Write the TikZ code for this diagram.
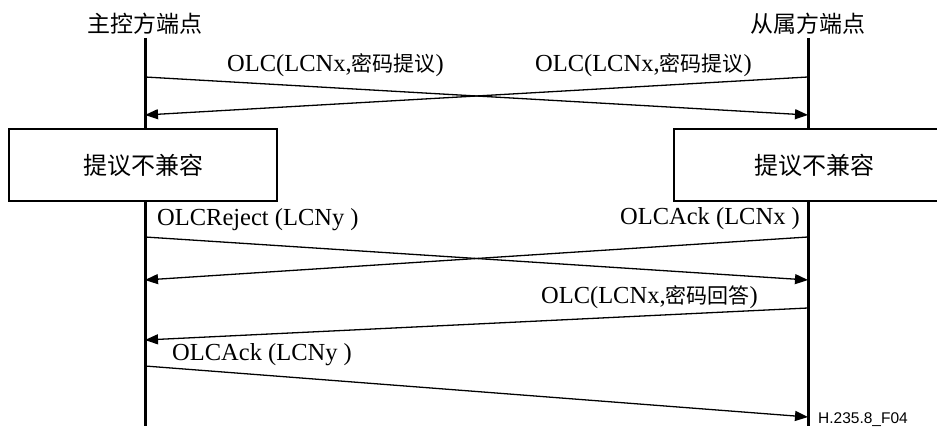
\documentclass[tikz,border=0pt]{standalone}
\usepackage{fontspec}
\setmainfont{Liberation Serif}
\newfontfamily\cjk{Noto Sans CJK SC}
\newfontfamily\sansf{Liberation Sans}
\newcommand{\cj}[1]{{\fontsize{21}{26}\selectfont\cjk #1}}
\usetikzlibrary{arrows.meta}
\tikzset{
  lifeline/.style={line width=3pt},
  msg/.style={line width=1.3pt,-{Triangle[length=13pt,width=10pt]}},
  msglabel/.style={inner sep=0pt,font=\fontsize{24.5}{28}\selectfont},
  header/.style={inner sep=0pt,font=\fontsize{23}{27}\selectfont\cjk},
  statebox/.style={draw,line width=1.8pt,fill=white,minimum height=72pt,font=\fontsize{24}{28}\selectfont\cjk,inner sep=0pt}
}
\begin{document}
\begin{tikzpicture}[x=1pt,y=-1pt]
\useasboundingbox[fill=white] (0,0) rectangle (937,430);
% headers
\node[header] (hL) at (145,24) {主控方端点};
\node[header] (hR) at (808,24) {从属方端点};
% lifelines
\coordinate (Ltop) at (145,38); \coordinate (Lbot) at (145,426);
\coordinate (Rtop) at (808,38); \coordinate (Rbot) at (808,426);
\draw[lifeline] (Ltop) -- (Lbot);
\draw[lifeline] (Rtop) -- (Rbot);
% message endpoints
\coordinate (L1) at (145,77);  \coordinate (R1) at (808,115);
\coordinate (R2) at (808,77);  \coordinate (L2) at (145,115);
\coordinate (L3) at (145,237); \coordinate (R3) at (808,280);
\coordinate (R4) at (808,237); \coordinate (L4) at (145,280);
\coordinate (R5) at (808,308); \coordinate (L5) at (145,340);
\coordinate (L6) at (145,366); \coordinate (R6) at (808,417);
% messages
\draw[msg] (L1) -- (R1);
\draw[msg] (R2) -- (L2);
\draw[msg] (L3) -- (R3);
\draw[msg] (R4) -- (L4);
\draw[msg] (R5) -- (L5);
\draw[msg] (L6) -- (R6);
% labels
\node[msglabel,anchor=west] (t1) at (227,65) {OLC(LCNx,\cj{密码提议})};
\node[msglabel,anchor=east] (t2) at (752,65) {OLC(LCNx,\cj{密码提议})};
\node[msglabel,anchor=west] (t3) at (157,220) {OLCReject (LCNy )};
\node[msglabel,anchor=east] (t4) at (800,219) {OLCAck (LCNx )};
\node[msglabel,anchor=east] (t5) at (758,297) {OLC(LCNx,\cj{密码回答})};
\node[msglabel,anchor=west] (t6) at (172,355) {OLCAck (LCNy )};
% state boxes
\node[statebox,minimum width=268pt] (bL) at (143,165) {提议不兼容};
\node[statebox,minimum width=280pt] (bR) at (814,165) {提议不兼容};
% figure id
\node[inner sep=0pt,anchor=west,font=\fontsize{15.5}{18}\selectfont\sansf] (fid) at (818,420) {H.235.8\_F04};
\end{tikzpicture}
\end{document}
